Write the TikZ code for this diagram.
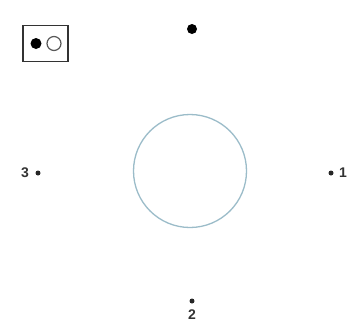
\documentclass[tikz,border=0pt]{standalone}
\usepackage{fontspec}
\setmainfont{Liberation Sans}
\begin{document}
\begin{tikzpicture}[x=1pt,y=-1pt,
  lbl/.style={font=\bfseries\fontsize{14}{16}\selectfont, inner sep=0pt, text=black!80},
  smalldot/.style={circle, fill=black!85, inner sep=0pt, minimum size=5pt},
  bigdot/.style={circle, fill=black, inner sep=0pt, minimum size=10pt}]
\useasboundingbox[fill=white] (0,0) rectangle (353,330);
% central circle
\node[circle, draw=cyan!35!gray!70, line width=1.3pt, minimum size=113pt, inner sep=0pt] (ring) at (190,171) {};
% top dot
\node[bigdot] (top) at (192,29) {};
% box with two circles
\node[draw=black!80, line width=1.5pt, minimum width=45pt, minimum height=36pt, inner sep=0pt] (box) at (45.5,43.5) {};
\node[circle, fill=black, inner sep=0pt, minimum size=11pt] (fdot) at (36,43.5) {};
\node[circle, draw=black!65, line width=1.2pt, inner sep=0pt, minimum size=14pt] (odot) at (54,43.5) {};
% left
\node[lbl] (l3) at (25,173) {3};
\node[smalldot] (ld) at (38,173) {};
% right
\node[smalldot] (rd) at (331,173) {};
\node[lbl] (r1) at (343,173) {1};
% bottom
\node[smalldot] (bd) at (192,301) {};
\node[lbl] (b2) at (192,315) {2};
\end{tikzpicture}
\end{document}
